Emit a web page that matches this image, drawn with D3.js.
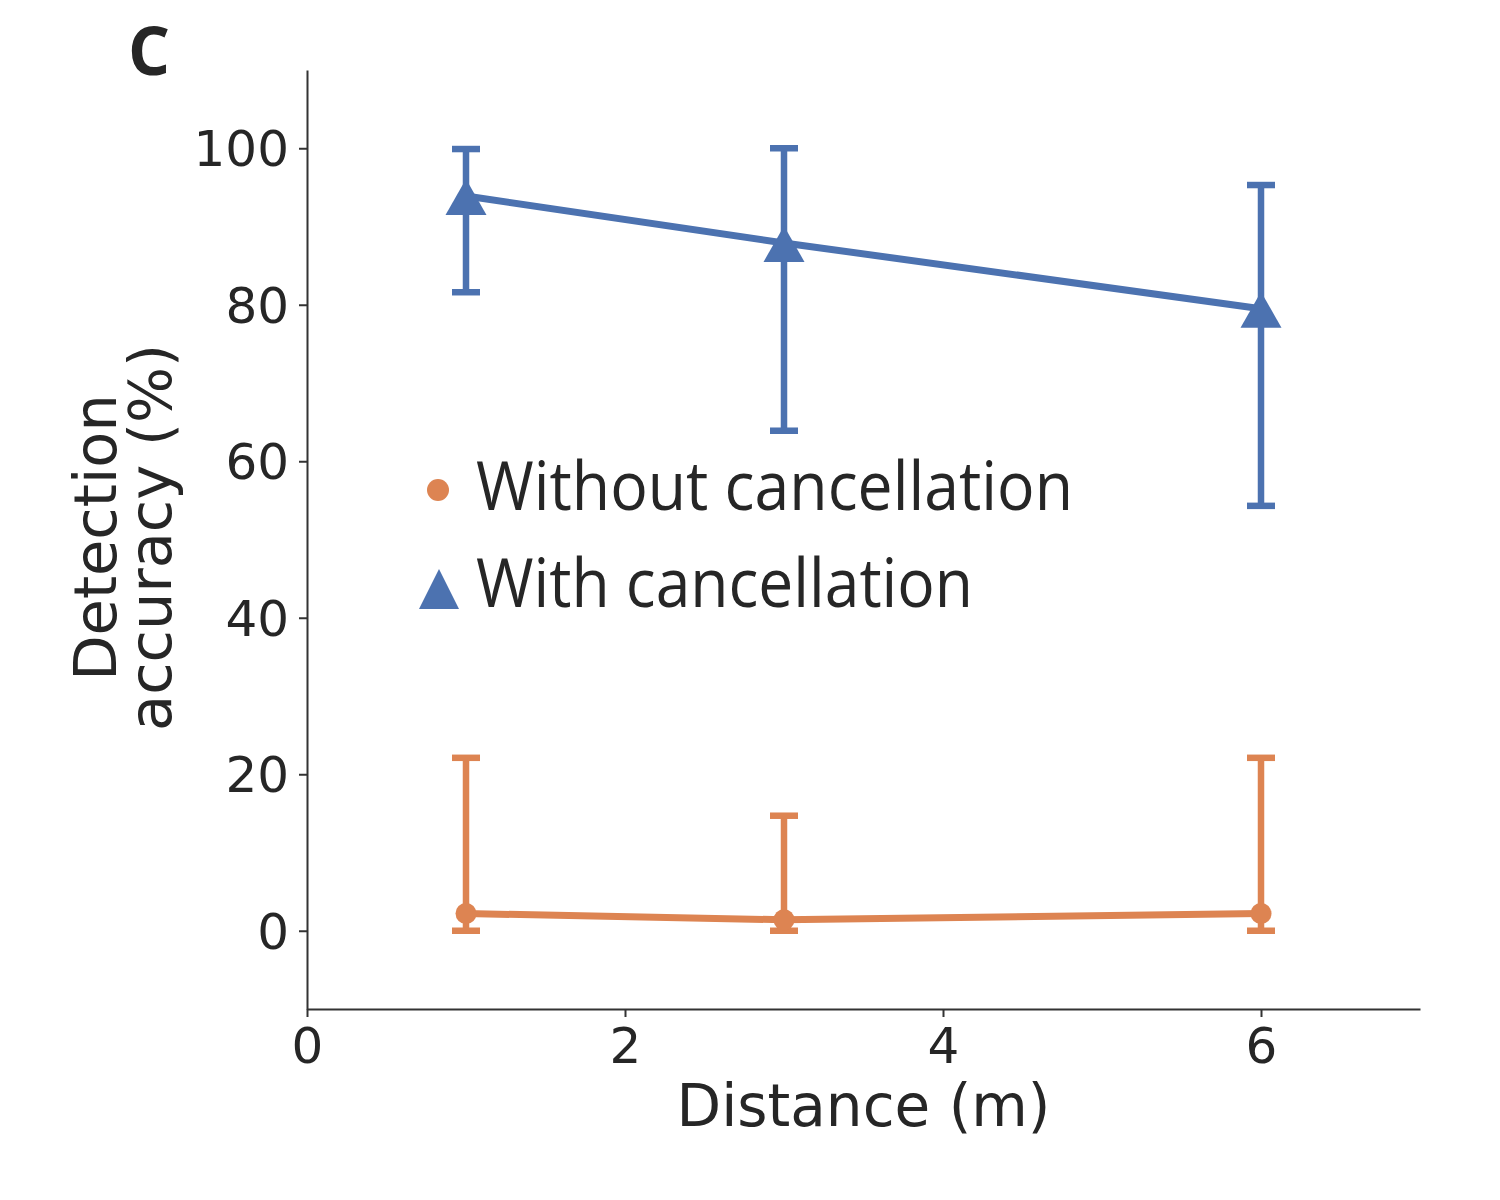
<!DOCTYPE html>
<html lang="en">
<head>
    <meta charset="UTF-8">
    <title>Detection accuracy vs distance</title>
    <style>
        body { margin: 0; background: #fff; }
        .axis path, .axis line { stroke: #333; stroke-width: 2; }
        .axis text { font-family: "DejaVu Sans", sans-serif; font-size: 50px; fill: #262626; }
    </style>
</head>
<body>
    <svg id="chart"></svg>

    <script src="https://d3js.org/d3.v7.min.js"></script>
    <script>
        const distances = [1, 3, 6]
        const withCancel = [93.9, 87.9, 79.5]
        const withLow = [81.6, 63.9, 54.3]
        const withHigh = [99.9, 100, 95.3]
        const withoutCancel = [2.2, 1.4, 2.2]
        const withoutLow = [0, 0, 0]
        const withoutHigh = [22.1, 14.7, 22.1]
        const xTicks = [0, 2, 4, 6]
        const yTicks = [0, 20, 40, 60, 80, 100]
        const legendLabels = ['Without cancellation', 'With cancellation']

        const blue = '#4c72b0'
        const orange = '#dd8452'

        function render() {
            const svg = d3.select('#chart').attr('width', 1500).attr('height', 1200)
            const margin = { top: 70, left: 307, right: 80, bottom: 191 }
            const width = 1500, height = 1200

            const x = d3.scaleLinear().domain([0, 7]).range([margin.left, width - margin.right])
            const y = d3.scaleLinear().domain([-10, 110]).range([height - margin.bottom, margin.top])

            // axes
            svg.append('g')
                .attr('class', 'axis')
                .attr('transform', `translate(0,${height - margin.bottom})`)
                .call(d3.axisBottom(x).tickValues(xTicks).tickFormat(d3.format('d')).tickSize(8).tickSizeOuter(0).tickPadding(10))

            svg.append('g')
                .attr('class', 'axis')
                .attr('transform', `translate(${margin.left},0)`)
                .call(d3.axisLeft(y).tickValues(yTicks).tickFormat(d3.format('d')).tickSize(8).tickSizeOuter(0).tickPadding(10))
                .selectAll('text').attr('dy', '0.35em')

            // axis titles
            svg.append('text')
                .attr('x', x(3.5)).attr('y', 1126)
                .attr('text-anchor', 'middle')
                .attr('font-family', 'DejaVu Sans, sans-serif')
                .attr('font-size', 58)
                .attr('fill', '#262626')
                .text('Distance (m)')

            const yt = svg.append('text')
                .attr('transform', `translate(0,${y(50) - 2}) rotate(-90)`)
                .attr('text-anchor', 'middle')
                .attr('font-family', 'DejaVu Sans, sans-serif')
                .attr('font-size', 59)
                .attr('fill', '#262626')
            yt.append('tspan').attr('x', 0).attr('y', 116).text('Detection')
            yt.append('tspan').attr('x', 0).attr('y', 171).text('accuracy (%)')

            svg.append('text')
                .attr('x', 128).attr('y', 75)
                .attr('font-family', 'Open Sans, sans-serif')
                .attr('font-weight', 'bold')
                .attr('font-size', 66)
                .attr('fill', '#262626')
                .text('C')

            const series = [
                { mean: withoutCancel, low: withoutLow, high: withoutHigh, color: orange, marker: 'circle' },
                { mean: withCancel, low: withLow, high: withHigh, color: blue, marker: 'triangle' }
            ]

            const line = d3.line().x((d, i) => x(distances[i])).y(d => y(d))
            const capW = 28

            series.forEach(s => {
                const g = svg.append('g')
                // error bars
                distances.forEach((d, i) => {
                    g.append('line')
                        .attr('x1', x(d)).attr('x2', x(d))
                        .attr('y1', y(s.low[i])).attr('y2', y(s.high[i]))
                        .attr('stroke', s.color).attr('stroke-width', 6.5)
                    ;[s.low[i], s.high[i]].forEach(v => {
                        g.append('line')
                            .attr('x1', x(d) - capW / 2).attr('x2', x(d) + capW / 2)
                            .attr('y1', y(v)).attr('y2', y(v))
                            .attr('stroke', s.color).attr('stroke-width', 6.5)
                    })
                })
                g.append('path')
                    .attr('d', line(s.mean))
                    .attr('fill', 'none')
                    .attr('stroke', s.color)
                    .attr('stroke-width', 7)
                if (s.marker === 'circle') {
                    g.selectAll('circle').data(s.mean).join('circle')
                        .attr('cx', (d, i) => x(distances[i])).attr('cy', d => y(d))
                        .attr('r', 10.5).attr('fill', s.color)
                } else {
                    g.selectAll('path.mk').data(s.mean).join('path')
                        .attr('class', 'mk')
                        .attr('d', d => {
                            const h = 36, w = 41
                            return `M0,${-h / 2}L${w / 2},${h / 2}L${-w / 2},${h / 2}Z`
                        })
                        .attr('transform', (d, i) => `translate(${x(distances[i])},${y(d) + 1})`)
                        .attr('fill', s.color)
                }
            })

            // legend
            const lg = svg.append('g')
            lg.append('circle').attr('cx', 438).attr('cy', 490).attr('r', 11).attr('fill', orange)
            lg.append('path').attr('d', 'M439,569L459,609L419,609Z').attr('fill', blue)
            const legY = [510, 607]
            const legW = [597, 497]
            legendLabels.forEach((t, i) => {
                lg.append('text')
                    .attr('x', 476).attr('y', legY[i])
                    .attr('font-family', 'Open Sans, sans-serif')
                    .attr('font-size', 67)
                    .attr('fill', '#262626')
                    .attr('textLength', legW[i])
                    .attr('lengthAdjust', 'spacingAndGlyphs')
                    .text(t)
            })
        }

        render()
    </script>
</body>
</html>
